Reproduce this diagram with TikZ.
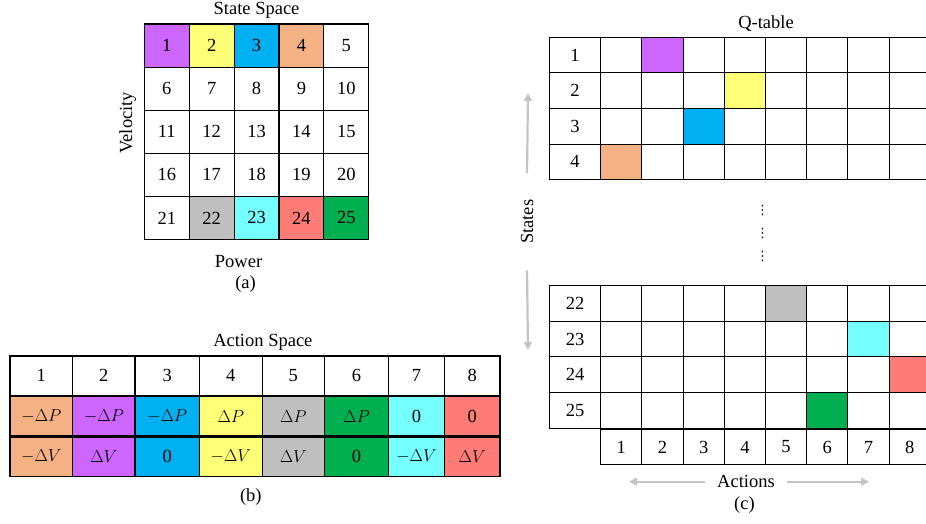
\documentclass[tikz,border=0pt]{standalone}
\usepackage{fontspec}
\setmainfont{Liberation Serif}
\newfontfamily\symfont{DejaVu Sans}
\usepackage{xcolor}
\usepackage{tikz}
\usetikzlibrary{shapes, arrows.meta, positioning}

\definecolor{cpurple}{HTML}{CC66FF}
\definecolor{cyellow}{HTML}{FFFF77}
\definecolor{cblue}{HTML}{00B0F0}
\definecolor{corange}{HTML}{F4B183}
\definecolor{cgray}{HTML}{BFBFBF}
\definecolor{ccyan}{HTML}{75FFFF}
\definecolor{cred}{HTML}{FF7B75}
\definecolor{cgreen}{HTML}{00B050}
\definecolor{arrgray}{HTML}{C4C4C4}

\begin{document}
\begin{tikzpicture}[x=1pt, y=-1pt, line width=1.1pt, font=\fontsize{18.5}{21}\selectfont,
    scell/.style={rectangle, draw, inner sep=0pt, minimum width=44.9pt, minimum height=43.1pt},
    acell/.style={rectangle, draw, inner sep=0pt, minimum height=39.4pt},
    qcell/.style={rectangle, draw, inner sep=0pt, minimum width=41.2pt, minimum height=35.6pt},
    qhead/.style={rectangle, draw, inner sep=0pt, minimum width=51.4pt, minimum height=35.6pt},
    txt/.style={inner sep=0pt},
    grayarr/.style={draw=arrgray, line width=2.2pt, -{Triangle[length=8pt, width=8pt]}}]
    \useasboundingbox (0,0) rectangle (926,523);

    % (a) State space
    \foreach \n/\c in {1/cpurple, 2/cyellow, 3/cblue, 4/corange, 5/white,
                       6/white, 7/white, 8/white, 9/white, 10/white,
                       11/white, 12/white, 13/white, 14/white, 15/white,
                       16/white, 17/white, 18/white, 19/white, 20/white,
                       21/white, 22/cgray, 23/ccyan, 24/cred, 25/cgreen}
        \node (s\n) [scell, fill=\c] at ({144.3+44.9*(mod(\n-1,5)+0.5)}, {24+43.1*(floor((\n-1)/5)+0.5)}) {\n};
    \node (sstitle) [txt, above=4.5pt of s3] {State Space};
    \node (velocity) [txt, rotate=90, anchor=south] at ([xshift=-7pt, yshift=9pt]s11.west) {Velocity};
    \node (power) [txt, below=14.5pt of s23, xshift=-18pt] {Power};
    \node (capa) [txt, below=7pt of power, xshift=7pt] {(a)};

    % (b) Action space
    \foreach \i/\xa/\xb/\c/\p/\v in {1/10/72.7/corange/{$-\Delta P$}/{$-\Delta V$},
                                    2/72.7/135/cpurple/{$-\Delta P$}/{$\Delta V$},
                                    3/135/199.3/cblue/{$-\Delta P$}/{0},
                                    4/199.3/262.3/cyellow/{$\Delta P$}/{$-\Delta V$},
                                    5/262.3/324.3/cgray/{$\Delta P$}/{$\Delta V$},
                                    6/324.3/388.7/cgreen/{$\Delta P$}/{0},
                                    7/388.7/444.3/ccyan/{0}/{$-\Delta V$},
                                    8/444.3/500/cred/{0}/{$\Delta V$}} {
        \node (act\i) [acell, minimum width={(\xb-\xa)*1pt}] at ({(\xa+\xb)/2}, 375.7) {\i};
        \node (dp\i) [acell, fill=\c, minimum width={(\xb-\xa)*1pt}, below=0pt of act\i] {\p};
        \node (dv\i) [acell, fill=\c, minimum width={(\xb-\xa)*1pt}, below=0pt of dp\i] {\v};
    }
    \node (astitle) [txt, above=4.5pt of act4.north east] {Action Space};
    \node (capb) [txt, below=11pt of dv4.south east, xshift=-12pt] {(b)};

    % (c) Q-table
    \foreach \s/\yc/\hc/\c in {1/55.1/2/cpurple, 2/90.7/4/cyellow, 3/126.3/3/cblue, 4/161.9/1/corange,
                               22/303.5/5/cgray, 23/339.1/7/ccyan, 24/374.7/8/cred, 25/410.3/6/cgreen} {
        \node (qs\s) [qhead] at (575, \yc) {\s};
        \foreach \a in {1,...,8} {
            \def\fc{white}\ifnum\a=\hc\relax\edef\fc{\c}\fi
            \node (q\s-\a) [qcell, fill=\fc] at ({621.3+41.2*(\a-1)}, \yc) {};
        }
    }
    \foreach \a in {1,...,8}
        \node (qa\a) [qcell, below=0pt of q25-\a] {\a};
    \node (qtitle) [txt, above=4.5pt of q1-4.north east] {Q-table};
    \foreach \k/\yd in {1/210.7, 2/233.3, 3/256}
        \node (dots\k) [txt, font=\fontsize{13}{14}\selectfont\symfont] at (762.7, \yd) {⋮};

    % axis arrows
    \node (states) [txt, rotate=90] at (527, 221.7) {States};
    \coordinate (stop) at (528, 93);
    \coordinate (sbot) at (528, 350);
    \draw[grayarr] ([yshift=26pt]states.east) -- (stop);
    \draw[grayarr] ([yshift=-26pt]states.west) -- (sbot);
    \node (actions) [txt] at (746, 481.7) {Actions};
    \coordinate (aleft) at (629, 481.7);
    \coordinate (aright) at (869, 481.7);
    \draw[grayarr] ([xshift=-12pt]actions.west) -- (aleft);
    \draw[grayarr] ([xshift=12pt]actions.east) -- (aright);
    \node (capc) [txt, below=8pt of actions, xshift=-1.5pt] {(c)};
\end{tikzpicture}
\end{document}
